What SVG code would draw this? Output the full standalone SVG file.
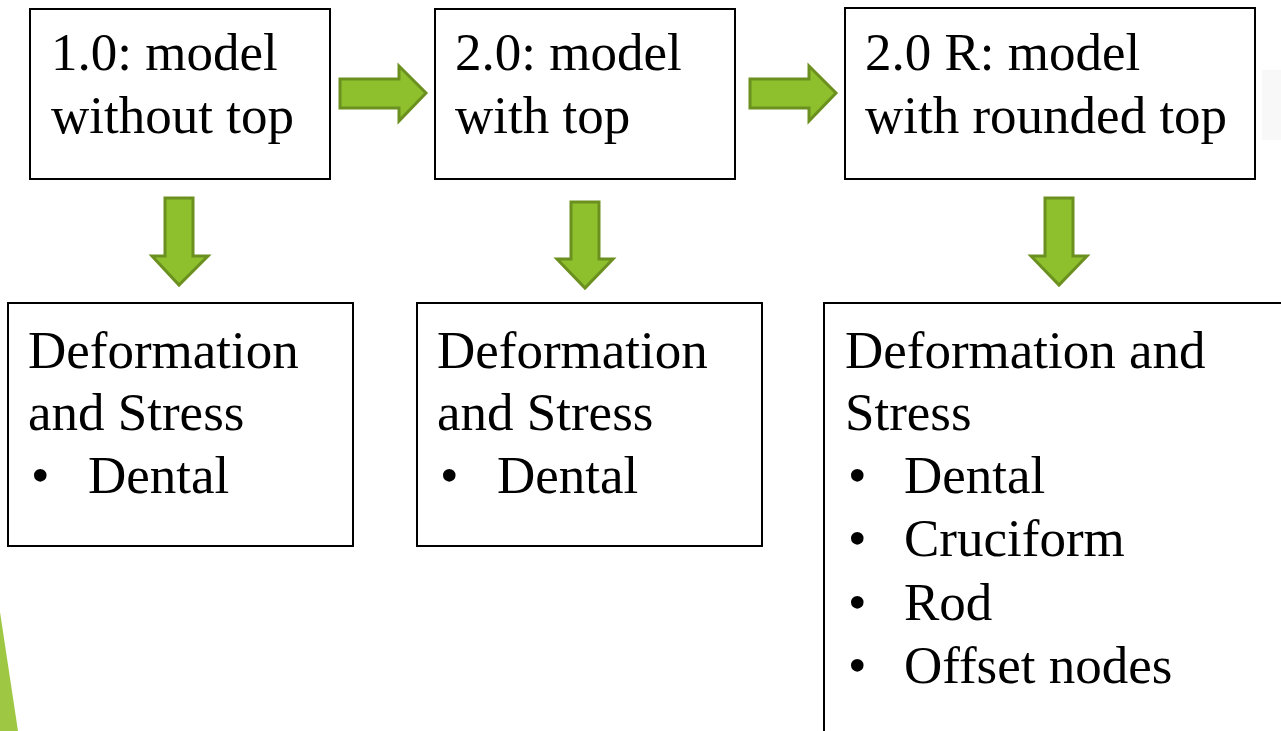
<svg xmlns="http://www.w3.org/2000/svg" width="1281" height="731" viewBox="0 0 1281 731">
<style>
.box{fill:#fff;stroke:#000;stroke-width:2}
.t{font-family:"Liberation Serif","Times New Roman",serif;font-size:53px;fill:#000}
.arr{fill:#8dc02c;stroke:#6b901f;stroke-width:3;stroke-linejoin:miter}
</style>
<rect width="1281" height="731" fill="#fff"/>
<rect x="1262" y="70" width="19" height="70" fill="#f8f8f8"/>
<polygon points="0,612 18,731 0,731" fill="#9ec843"/>
<g id="connectors">
<polygon class="arr" points="340,79 399,79 399,66 426,93 399,121 399,108 340,108"/>
<polygon class="arr" points="750,79 809,79 809,66 836,93 809,121 809,108 750,108"/>
<polygon class="arr" points="165,198 193,198 193,256 208,256 179,285 152,256 165,256"/>
<polygon class="arr" points="571,202 599,202 599,259 613,259 585,288 557,259 571,259"/>
<polygon class="arr" points="1045,198 1073,198 1073,256 1087,256 1059,285 1031,256 1045,256"/>
</g>
<g id="n1"><rect class="box" x="30" y="9" width="300" height="170"/>
<text class="t" x="51" y="70">1.0: model</text><text class="t" x="51" y="133">without top</text></g>
<g id="n2"><rect class="box" x="435" y="9" width="300" height="170"/>
<text class="t" x="455" y="70">2.0: model</text><text class="t" x="455" y="133">with top</text></g>
<g id="n3"><rect class="box" x="845" y="8" width="410" height="171"/>
<text class="t" x="865" y="70">2.0 R: model</text><text class="t" x="865" y="133">with rounded top</text></g>
<g id="n4"><rect class="box" x="8" y="303" width="345" height="243"/>
<text class="t" x="28" y="368">Deformation</text><text class="t" x="28" y="430">and Stress</text>
<text class="t" x="31" y="493">•</text><text class="t" x="88" y="493">Dental</text></g>
<g id="n5"><rect class="box" x="417" y="303" width="345" height="243"/>
<text class="t" x="437" y="368">Deformation</text><text class="t" x="437" y="430">and Stress</text>
<text class="t" x="440" y="493">•</text><text class="t" x="497" y="493">Dental</text></g>
<g id="n6"><rect class="box" x="824" y="303" width="470" height="440"/>
<text class="t" x="845" y="368">Deformation and</text><text class="t" x="845" y="430">Stress</text>
<text class="t" x="848" y="493">•</text><text class="t" x="904" y="493">Dental</text>
<text class="t" x="848" y="556">•</text><text class="t" x="904" y="556">Cruciform</text>
<text class="t" x="848" y="620">•</text><text class="t" x="904" y="620">Rod</text>
<text class="t" x="848" y="683">•</text><text class="t" x="904" y="683">Offset nodes</text></g>
</svg>
